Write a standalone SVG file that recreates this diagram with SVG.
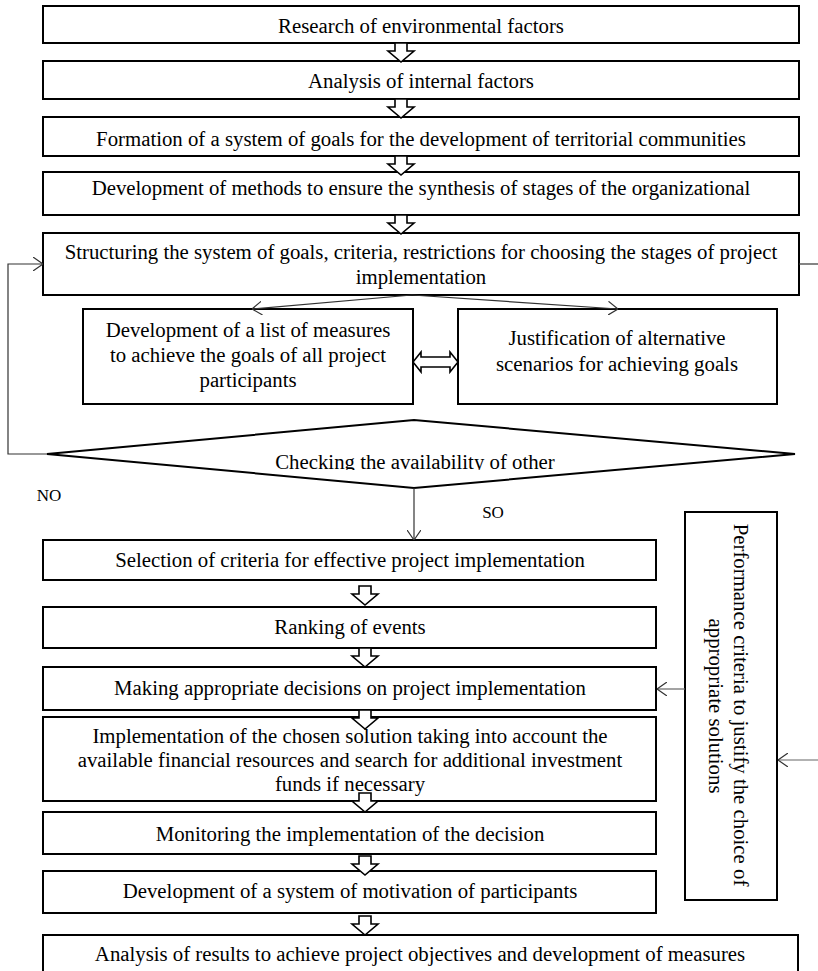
<svg xmlns="http://www.w3.org/2000/svg" width="818" height="971" viewBox="0 0 818 971">
<style>
  .box { fill: #fff; stroke: #000; stroke-width: 2; }
  .t { font-family: "Liberation Serif", "Times New Roman", serif; font-size: 20.8px; fill: #000; text-anchor: middle; }
  .small { font-size: 17px; }
  .conn { fill: none; stroke: #333; stroke-width: 1.2; }
  .gray { stroke: #666; }
  .blk { fill: #fff; stroke: #000; stroke-width: 1.6; stroke-linejoin: miter; }
</style>
<defs>
  <marker id="ah" markerUnits="userSpaceOnUse" viewBox="0 0 10 14" refX="10" refY="7" markerWidth="10" markerHeight="14" orient="auto">
    <path d="M0,0 L10,7 L0,14" fill="none" stroke="#333" stroke-width="1.2"/>
  </marker>
  <path id="down" d="M-6,0 H6 V8 H13 L0,19 L-13,8 H-6 Z"/>
  <clipPath id="dclip"><rect x="0" y="400" width="818" height="70"/></clipPath>
</defs>

<g id="n1"><rect class="box" x="43" y="6" width="756" height="37"/><text class="t" x="421" y="33">Research of environmental factors</text></g>
<g id="n2"><rect class="box" x="43" y="61" width="756" height="38"/><text class="t" x="421" y="88">Analysis of internal factors</text></g>
<g id="n3"><rect class="box" x="43" y="117" width="756" height="39"/><text class="t" x="421" y="146">Formation of a system of goals for the development of territorial communities</text></g>
<g id="n4"><rect class="box" x="43" y="172" width="756" height="43"/><text class="t" x="421" y="195">Development of methods to ensure the synthesis of stages of the organizational</text></g>
<g id="n5"><rect class="box" x="43" y="233" width="756" height="62"/><text class="t" x="421" y="259">Structuring the system of goals, criteria, restrictions for choosing the stages of project</text><text class="t" x="421" y="284">implementation</text></g>
<g id="n6"><rect class="box" x="83" y="309" width="330" height="95"/><text class="t" x="248" y="337">Development of a list of measures</text><text class="t" x="248" y="362">to achieve the goals of all project</text><text class="t" x="248" y="387">participants</text></g>
<g id="n7"><rect class="box" x="458" y="309" width="319" height="95"/><text class="t" x="617" y="345">Justification of alternative</text><text class="t" x="617" y="371">scenarios for achieving goals</text></g>
<g id="n8"><polygon class="box" points="47,454 414,420 795,454 414,488"/><text class="t" x="415" y="469" clip-path="url(#dclip)">Checking the availability of other</text></g>
<g id="n9"><rect class="box" x="43" y="540" width="613" height="40"/><text class="t" x="350" y="567">Selection of criteria for effective project implementation</text></g>
<g id="n10"><rect class="box" x="43" y="607" width="613" height="41"/><text class="t" x="350" y="634">Ranking of events</text></g>
<g id="n11"><rect class="box" x="43" y="667" width="613" height="43"/><text class="t" x="350" y="695">Making appropriate decisions on project implementation</text></g>
<g id="n12"><rect class="box" x="43" y="717" width="613" height="84"/><text class="t" x="350" y="743">Implementation of the chosen solution taking into account the</text><text class="t" x="350" y="767">available financial resources and search for additional investment</text><text class="t" x="350" y="791">funds if necessary</text></g>
<g id="n13"><rect class="box" x="43" y="812" width="613" height="42"/><text class="t" x="350" y="841">Monitoring the implementation of the decision</text></g>
<g id="n14"><rect class="box" x="43" y="871" width="613" height="42"/><text class="t" x="350" y="898">Development of a system of motivation of participants</text></g>
<g id="n15"><rect class="box" x="43" y="935" width="755" height="50"/><text class="t" x="420" y="961">Analysis of results to achieve project objectives and development of measures</text></g>
<g id="n16"><rect class="box" x="685" y="512" width="92" height="388"/><text class="t" transform="translate(734,705) rotate(90)">Performance criteria  to justify the choice of</text><text class="t" transform="translate(709,706) rotate(90)">appropriate solutions</text></g>

<g id="labels">
  <text class="t small" x="49" y="501">NO</text>
  <text class="t small" x="493" y="518">SO</text>
</g>

<g id="connectors">
  <use href="#down" class="blk" x="401" y="43"/>
  <use href="#down" class="blk" x="401" y="99"/>
  <use href="#down" class="blk" x="401" y="156"/>
  <use href="#down" class="blk" x="401" y="215"/>
  <use href="#down" class="blk" x="365" y="586"/>
  <use href="#down" class="blk" x="365" y="648"/>
  <use href="#down" class="blk" x="365" y="710"/>
  <use href="#down" class="blk" x="365" y="793"/>
  <use href="#down" class="blk" x="365" y="856"/>
  <use href="#down" class="blk" x="365" y="916"/>
  <path class="blk" d="M413,362 L421,352 V357 H450 V352 L458,362 L450,372 V367 H421 V372 Z"/>
  <line class="conn" x1="412" y1="295" x2="252" y2="309" marker-end="url(#ah)"/>
  <line class="conn" x1="412" y1="295" x2="618" y2="309" marker-end="url(#ah)"/>
  <polyline class="conn" points="47,454 8,454 8,264 43,264" marker-end="url(#ah)"/>
  <line class="conn" x1="799" y1="264" x2="818" y2="264"/>
  <line class="conn" x1="414" y1="488" x2="414" y2="540" marker-end="url(#ah)"/>
  <line class="conn gray" x1="685" y1="689" x2="657" y2="689" marker-end="url(#ah)"/>
  <line class="conn gray" x1="818" y1="760" x2="778" y2="760" marker-end="url(#ah)"/>
</g>
</svg>
